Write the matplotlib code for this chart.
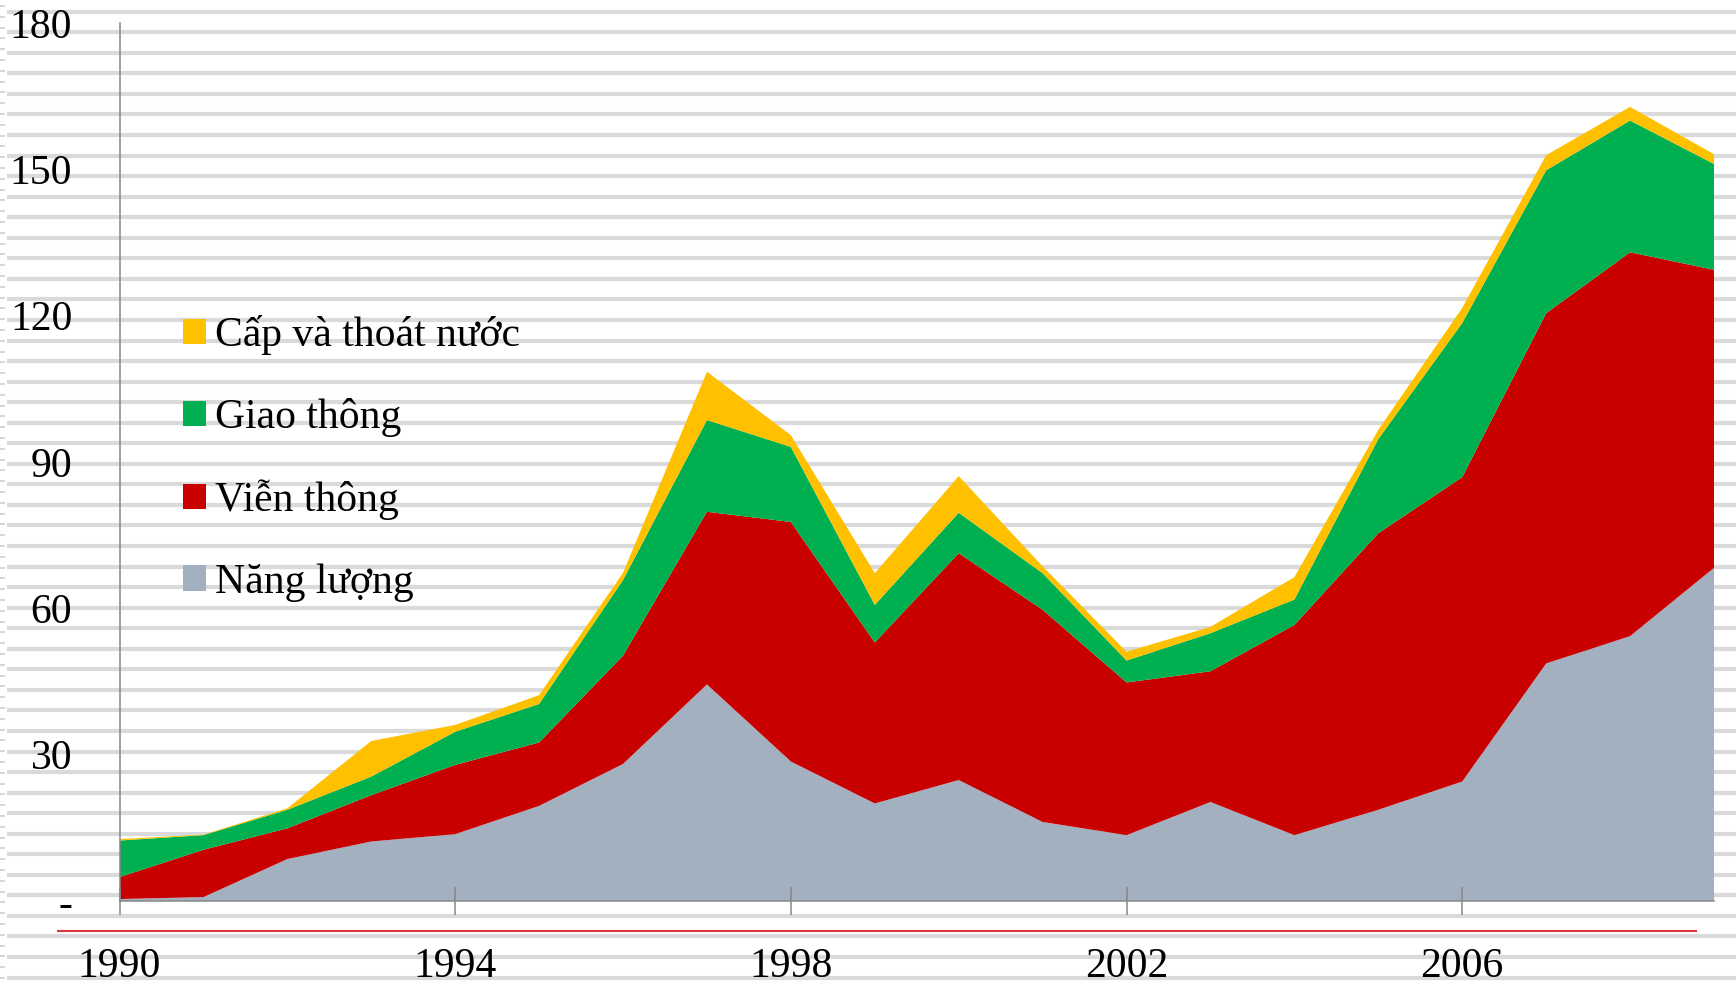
import numpy as np
import matplotlib
matplotlib.use("Agg")
import matplotlib.pyplot as plt
from matplotlib.patches import Patch
from matplotlib.lines import Line2D

# Dữ liệu
nam = list(range(1990, 2010))
nang_luong = [0.4, 0.8, 8.6, 12.2, 13.7, 19.5, 28.1, 44.4, 28.6, 20.0,
              24.8, 16.2, 13.5, 20.3, 13.5, 18.7, 24.5, 48.7, 54.3, 68.3]
vien_thong = [4.5, 9.7, 6.3, 9.5, 14.2, 13.0, 22.2, 35.4, 49.1, 33.0,
              46.5, 43.5, 31.3, 26.8, 43.1, 56.7, 62.4, 71.8, 78.7, 61.1]
giao_thong = [7.5, 3.0, 3.8, 3.8, 6.8, 7.9, 15.5, 18.8, 15.4, 7.7,
              8.3, 7.5, 4.5, 7.8, 5.2, 19.3, 31.6, 29.3, 27.0, 21.7]
cap_thoat_nuoc = [0.3, 0.1, 0.3, 7.3, 1.4, 1.8, 1.5, 9.9, 2.4, 6.5,
                  7.5, 1.4, 1.8, 1.3, 4.6, 1.9, 3.1, 3.1, 2.8, 2.0]

nhan = ['Năng lượng', 'Viễn thông', 'Giao thông', 'Cấp và thoát nước']
mau = ['#A3B0BF', '#C80000', '#00B050', '#FFC000']

x_ticks = [1990, 1994, 1998, 2002, 2006]
y_ticks = [0, 30, 60, 90, 120, 150, 180]
y_labels = ['-', '30', '60', '90', '120', '150', '180']

plt.rcParams['font.family'] = ['Liberation Serif', 'DejaVu Serif']

W, H = 1736, 983
fig = plt.figure(figsize=(W / 100, H / 100), dpi=100, facecolor='white')

# Nền kẻ sọc ngang
ax_bg = fig.add_axes([0, 0, 1, 1], zorder=-1)
ax_bg.set_xlim(0, W)
ax_bg.set_ylim(H, 0)
ax_bg.axis('off')
ax_bg.hlines(np.arange(11.7, H, 20.55), 7, W, color='#DADADA', lw=3.0)
ax_bg.hlines(np.arange(6, H, 10.8), 0, 5, color='#CFCFCF', lw=1.2)

# Biểu đồ miền chồng
ax = fig.add_axes([119.5 / W, (H - 901) / H, (1714 - 119.5) / W, (901 - 23) / H])
ax.set_facecolor('none')
ax.stackplot(nam, nang_luong, vien_thong, giao_thong, cap_thoat_nuoc,
             colors=mau, labels=nhan, linewidth=0)

ax.set_xlim(1990, 2009)
ax.set_ylim(0, 180)
ax.set_xticks(x_ticks)
ax.set_xticklabels([str(v) for v in x_ticks])
ax.set_yticks(y_ticks)
ax.set_yticklabels(y_labels)

for s in ['top', 'right']:
    ax.spines[s].set_visible(False)
for s in ['left', 'bottom']:
    ax.spines[s].set_color('#878787')
    ax.spines[s].set_linewidth(1.1)

ax.tick_params(axis='x', direction='inout', length=19.5, width=1.1,
               color='#878787', labelsize=30, pad=24)
ax.tick_params(axis='y', length=0, labelsize=30, pad=34)

# Chú thích
handles = [Patch(facecolor=c, edgecolor='none') for c in mau][::-1]
fig.legend(handles, nhan[::-1], loc='upper left',
           bbox_to_anchor=(183 / W, 1 - 315 / H), frameon=False,
           fontsize=30, handlelength=0.56, handleheight=0.56,
           handletextpad=0.2, labelspacing=1.03, borderpad=0,
           borderaxespad=0)

# Đường đỏ phía dưới
fig.add_artist(Line2D([57.6 / W, 1696 / W], [1 - 931 / H, 1 - 931 / H],
                      color='#D93A3A', lw=1.5))

fig.savefig('out.png', dpi=100, facecolor='white')
